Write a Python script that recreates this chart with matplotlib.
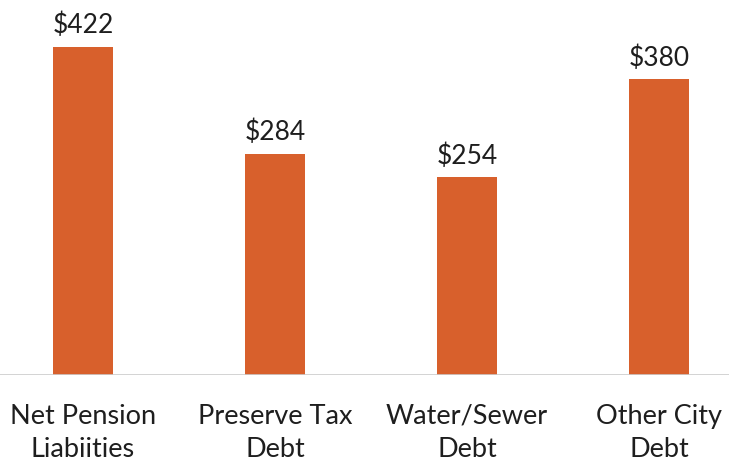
import matplotlib.pyplot as plt
import numpy as np

categories = ["Net Pension\nLiabiities", "Preserve Tax\nDebt", "Water/Sewer\nDebt", "Other City\nDebt"]
values = [422, 284, 254, 380]
value_labels = ["$422", "$284", "$254", "$380"]

plt.rcParams['font.family'] = ['Lato', 'DejaVu Sans']

fig = plt.figure(figsize=(7.29, 4.63), dpi=100)
ax = fig.add_axes([0, 0.19, 1, 0.81])

x = np.arange(len(categories))
bars = ax.bar(x, values, width=0.31, color="#D8602C")

for xi, v, lab in zip(x, values, value_labels):
    ax.text(xi, v + 11, lab, ha="center", va="bottom", fontsize=19, color="#1e1e1e")

for xi, cat in zip(x, categories):
    ax.text(xi, -37, cat, ha="center", va="top", fontsize=19.5, color="#1e1e1e",
            linespacing=1.42)

ax.set_xlim(-0.432, 3.365)
ax.set_ylim(0, 482)
ax.axhline(0, color="#cccccc", linewidth=1.2)
for s in ax.spines.values():
    s.set_visible(False)
ax.set_xticks([])
ax.set_yticks([])

fig.savefig("out.png", dpi=100)
